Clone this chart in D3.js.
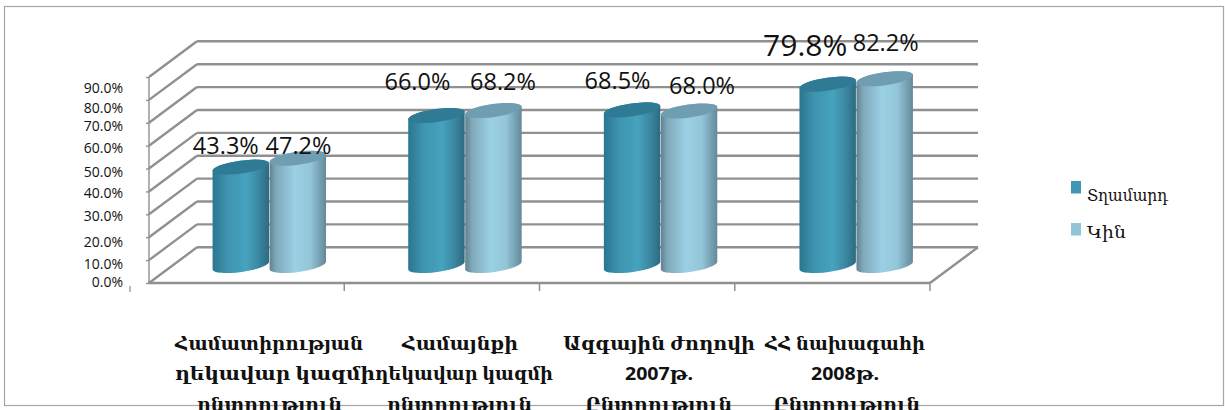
<!DOCTYPE html>
<html>
<head>
<meta charset="utf-8">
<script src="https://d3js.org/d3.v7.min.js"></script>
<style>
  html, body { margin: 0; padding: 0; background: #fff; overflow: hidden; }
  text { fill: #111; }
</style>
</head>
<body>
<div class="canvas"></div>
<script>
// chart data
const categories = ['c1', 'c2', 'c3', 'c4']
const categoryLines = [
  ['Համատիրության', 'ղեկավար կազմի', 'ընտրություն'],
  ['Համայնքի', 'ղեկավար կազմի', 'ընտրություն'],
  ['Ազգային ժողովի', '2007թ.', 'Ընտրություն'],
  ['ՀՀ նախագահի', '2008թ.', 'Ընտրություն'],
]
const seriesNames = ['Տղամարդ', 'Կին']
const men = [43.3, 66.0, 68.5, 79.8]
const women = [47.2, 68.2, 68.0, 82.2]
const yTicks = [0, 10, 20, 30, 40, 50, 60, 70, 80, 90]

// graph constant settings
const dims = { width: 1225, height: 410 }
const front = { left: 149, right: 930, bottom: 283, top: 77 }
const depth = { x: 48, y: -35.7 }
const barR = { x: 28.5, y: 6.5, tilt: -8 }
const grey = '#909090'

// the source chart has its labels placed by hand, so these are nudges
const tickNudge = [-1, 4, 5, 2, 2, 3, 2, 3, 8, 11]
const labelNudge = {
  men: [[-15, -22], [-19, -33.5], [-14.5, -29], [-22.5, -39]],
  women: [[0.7, -13], [9.6, -28.5], [13, -25], [1, -36]],
}
const labelSize = { men: [23.5, 23.5, 23.5, 30], women: [23.5, 23.5, 23.5, 23.5] }
// left and right end of every category label line
const lineSpans = [
  [[175, 363], [175, 375], [197, 342]],
  [[402, 518], [375, 553], [387, 532]],
  [[563, 755], [625, 693], [585, 732]],
  [[765, 925], [811, 879], [773, 920]],
]
const lineBase = [350, 380, 411]

const svg = d3.select('.canvas')
  .append('svg')
  .attr('width', dims.width)
  .attr('height', dims.height)
  .style('display', 'block')

// outer frame
svg.append('rect')
  .attr('x', 4.5)
  .attr('y', 6.5)
  .attr('width', 1219)
  .attr('height', 399)
  .attr('fill', 'none')
  .attr('stroke', '#a6a6a6')
  .attr('stroke-width', 1.2)

// scales
const yFront = d3.scaleLinear().domain([0, 90]).range([front.bottom, front.top])
const yBar = d3.scaleLinear().domain([0, 90]).range([265.5, 61])
const xFront = d3.scaleBand().domain(categories).range([front.left, front.right])
const xBar = d3.scaleBand().domain(categories).range([171.5, 954])
const xSeries = d3.scaleBand().domain(['men', 'women']).range([-57, 57])

const gradient = (id, stops) => {
  const g = svg.append('defs').append('linearGradient').attr('id', id)
  g.selectAll('stop')
    .data(stops)
    .enter()
    .append('stop')
    .attr('offset', d => d[0])
    .attr('stop-color', d => d[1])
}
gradient('menGrad', [[0, '#2b7690'], [0.28, '#3f95b0'], [0.6, '#46a2bd'], [0.82, '#3a87a1'], [1, '#2d6a80']])
gradient('womenGrad', [[0, '#62818f'], [0.12, '#7fa9ba'], [0.45, '#9bd0e4'], [0.72, '#94c6d9'], [1, '#63899a']])

// walls: horizontal grid lines on the back and the diagonals on the side
const grid = svg.append('g')
  .attr('stroke', grey)
  .attr('stroke-width', 2.4)
  .attr('fill', 'none')

grid.selectAll('.back')
  .data(yTicks)
  .enter()
  .append('line')
  .attr('class', 'back')
  .attr('x1', front.left + depth.x)
  .attr('x2', front.right + depth.x)
  .attr('y1', d => yFront(d) + depth.y)
  .attr('y2', d => yFront(d) + depth.y)

grid.selectAll('.side')
  .data(yTicks)
  .enter()
  .append('line')
  .attr('class', 'side')
  .attr('x1', front.left)
  .attr('x2', front.left + depth.x)
  .attr('y1', d => yFront(d))
  .attr('y2', d => yFront(d) + depth.y)

// floor edges
grid.append('line')
  .attr('x1', front.right)
  .attr('x2', front.right + depth.x)
  .attr('y1', front.bottom)
  .attr('y2', front.bottom + depth.y)

grid.append('line')
  .attr('x1', front.left)
  .attr('x2', front.right)
  .attr('y1', front.bottom)
  .attr('y2', front.bottom)

grid.append('line')
  .attr('x1', front.left)
  .attr('x2', front.left)
  .attr('y1', front.top)
  .attr('y2', front.bottom)
  .attr('stroke-width', 1.4)

// y axis ticks, the labels get their nudge after the axis is drawn
const yAxis = d3.axisLeft(yFront)
  .tickValues(yTicks)
  .tickSize(3)
  .tickFormat(d => d.toFixed(1) + '%')

const yG = svg.append('g')
  .attr('transform', `translate(${front.left}, 0)`)
  .call(yAxis)

yG.select('.domain').remove()
yG.selectAll('.tick line').attr('stroke', grey).attr('stroke-width', 1.4)
yG.selectAll('.tick text')
  .attr('x', -26)
  .attr('dy', (d, i) => `${0.32 + tickNudge[i] / 14}em`)
  .attr('font-family', 'Open Sans')
  .attr('font-size', 14)
  .attr('fill', '#111')

// category ticks under the floor
svg.append('g')
  .attr('stroke', grey)
  .attr('stroke-width', 1.5)
  .selectAll('line')
  .data(categories)
  .enter()
  .append('line')
  .attr('x1', d => xFront(d) + xFront.step())
  .attr('x2', d => xFront(d) + xFront.step())
  .attr('y1', front.bottom)
  .attr('y2', front.bottom + 8)

svg.append('line')
  .attr('x1', 130)
  .attr('x2', 130)
  .attr('y1', 286)
  .attr('y2', 292)
  .attr('stroke', '#777')
  .attr('stroke-width', 1)

// one cylinder: side surface first, the lid goes on top of it
const cylinderPath = (cx, value) => {
  const top = yBar(value)
  const bottom = yBar(0)
  const dx = barR.x * Math.cos(barR.tilt * Math.PI / 180)
  const dy = barR.x * Math.sin(barR.tilt * Math.PI / 180)
  return `M${cx - dx},${top - dy}` +
    `L${cx - dx},${bottom - dy}` +
    `A${barR.x},${barR.y} ${barR.tilt} 0 0 ${cx + dx},${bottom + dy}` +
    `L${cx + dx},${top + dy}` +
    `A${barR.x},${barR.y} ${barR.tilt} 0 0 ${cx - dx},${top - dy}Z`
}

const series = [
  { key: 'men', values: men, fill: 'url(#menGrad)', lid: '#2f7b95' },
  { key: 'women', values: women, fill: 'url(#womenGrad)', lid: '#6f9db1' },
]

const centerX = (key, i) => xBar(categories[i]) + xBar.step() / 2 + xSeries(key) + xSeries.step() / 2

series.forEach(s => {
  const g = svg.append('g').attr('class', s.key)

  g.selectAll('path')
    .data(s.values)
    .enter()
    .append('path')
    .attr('d', (d, i) => cylinderPath(centerX(s.key, i), d))
    .attr('fill', s.fill)

  g.selectAll('ellipse')
    .data(s.values)
    .enter()
    .append('ellipse')
    .attr('rx', barR.x)
    .attr('ry', barR.y)
    .attr('transform', (d, i) => `translate(${centerX(s.key, i)}, ${yBar(d)}) rotate(${barR.tilt})`)
    .attr('fill', s.lid)
})

// data labels
series.forEach(s => {
  svg.append('g')
    .selectAll('text')
    .data(s.values)
    .enter()
    .append('text')
    .attr('x', (d, i) => centerX(s.key, i) + labelNudge[s.key][i][0])
    .attr('y', (d, i) => yBar(d) + labelNudge[s.key][i][1])
    .attr('dy', '0.36em')
    .attr('text-anchor', 'middle')
    .attr('font-family', 'Open Sans')
    .attr('font-size', (d, i) => labelSize[s.key][i])
    .text(d => d.toFixed(1) + '%')
})

// category labels, the third line runs off the bottom of the picture as in the source
const catG = svg.append('g')
  .selectAll('g')
  .data(categoryLines)
  .enter()
  .append('g')

catG.selectAll('text')
  .data((d, i) => d.map((line, j) => ({ line, j, span: lineSpans[i][j] })))
  .enter()
  .append('text')
  .attr('y', d => lineBase[d.j])
  .attr('x', d => d.span[0])
  .attr('textLength', d => d.span[1] - d.span[0])
  .attr('lengthAdjust', 'spacingAndGlyphs')
  .attr('font-family', "'Open Sans', 'DejaVu Serif'")
  .attr('font-weight', 'bold')
  .attr('font-size', 18)
  .text(d => d.line)

// legend
const legendColors = ['#3f97b2', '#92c3d6']
const legendY = d3.scalePoint().domain(seriesNames).range([181, 223])
const legendWidths = [81, 39]

const legend = svg.append('g')
  .selectAll('g')
  .data(seriesNames)
  .enter()
  .append('g')
  .attr('transform', d => `translate(1071, ${legendY(d)})`)

legend.append('rect')
  .attr('width', 10)
  .attr('height', 12.5)
  .attr('fill', (d, i) => legendColors[i])

legend.append('text')
  .attr('x', 16)
  .attr('y', (d, i) => i === 0 ? 20 : 15)
  .attr('textLength', (d, i) => legendWidths[i])
  .attr('lengthAdjust', 'spacingAndGlyphs')
  .attr('font-family', 'DejaVu Serif')
  .attr('font-size', 17)
  .text(d => d)
</script>
</body>
</html>
